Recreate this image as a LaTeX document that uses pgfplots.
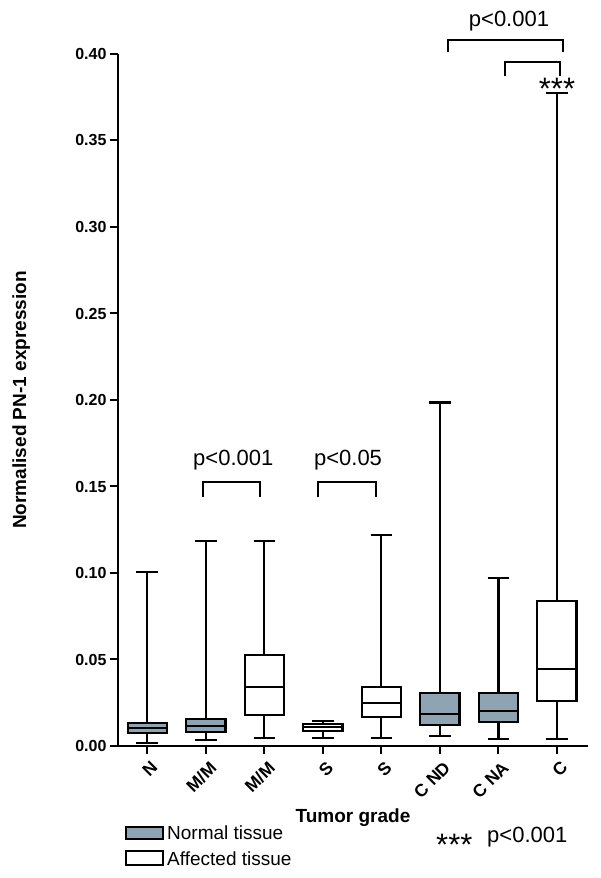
\documentclass[border=0pt]{standalone}
\usepackage{fontspec}
\setmainfont{Liberation Sans}
\usepackage{pgfplots}
\pgfplotsset{compat=1.18}
\usepgfplotslibrary{statistics}
\definecolor{normalgray}{RGB}{143,164,178}
\begin{document}
\begin{tikzpicture}
\useasboundingbox (0pt,0pt) rectangle (600pt,878pt);
\begin{axis}[
  at={(118pt,132pt)}, anchor=south west,
  scale only axis, width=470pt, height=692pt,
  xmin=-0.5, xmax=7.53, ymin=0, ymax=0.4,
  axis x line*=bottom, axis y line*=left,
  axis line style={line width=2pt, -},
  tick align=outside, major tick length=8pt,
  major tick style={line width=2pt, black},
  xtick={0,1,2,3,4,5,6,7},
  xticklabels={N,M/M,M/M,S,S,C ND,C NA,C},
  ytick={0,0.05,0.10,0.15,0.20,0.25,0.30,0.35,0.40},
  /pgf/number format/assume math mode=true,
  yticklabel style={/pgf/number format/.cd, fixed, fixed zerofill, precision=2},
  tick label style={font=\fontsize{16}{19}\selectfont\bfseries},
  xticklabel style={rotate=45, anchor=north east, yshift=-3pt, xshift=1pt, font=\fontsize{17.5}{20}\selectfont\bfseries},
  ylabel={Normalised PN-1 expression},
  ylabel style={font=\fontsize{19}{22}\selectfont\bfseries, at={(axis description cs:-0.206,0.5)}, anchor=center},
  xlabel={Tumor grade},
  xlabel style={font=\fontsize{19}{22}\selectfont\bfseries, at={(axis description cs:0.5,-0.104)}, anchor=center},
  clip=false,
  boxplot/draw direction=y,
  boxplot/box extend=0.67,
  boxplot/whisker extend=0.37,
  boxplot/every box/.style={draw=black, line width=2.2pt},
  boxplot/every whisker/.style={draw=black, line width=2.2pt},
  boxplot/every median/.style={draw=black, line width=2.2pt},
]
% N (normal)
\addplot[fill=normalgray, draw=black, line width=2.2pt, boxplot prepared={draw position=0, lower whisker=0.0019, lower quartile=0.0073, median=0.0106, upper quartile=0.0135, upper whisker=0.1004}] coordinates {};
% M/M (normal)
\addplot[fill=normalgray, draw=black, line width=2.2pt, boxplot prepared={draw position=1, lower whisker=0.0035, lower quartile=0.0081, median=0.0116, upper quartile=0.0156, upper whisker=0.1185}] coordinates {};
% M/M (affected)
\addplot[fill=white, draw=black, line width=2.2pt, boxplot prepared={draw position=2, lower whisker=0.0048, lower quartile=0.0177, median=0.0343, upper quartile=0.0526, upper whisker=0.1185}] coordinates {};
% S
\addplot[fill=white, draw=black, line width=2.2pt, boxplot prepared={draw position=3, lower whisker=0.0048, lower quartile=0.0089, median=0.0108, upper quartile=0.0127, upper whisker=0.0145}] coordinates {};
% S (affected)
\addplot[fill=white, draw=black, line width=2.2pt, boxplot prepared={draw position=4, lower whisker=0.0044, lower quartile=0.0166, median=0.0250, upper quartile=0.0343, upper whisker=0.1220}] coordinates {};
% C ND (normal)
\addplot[fill=normalgray, draw=black, line width=2.2pt, boxplot prepared={draw position=5, lower whisker=0.0058, lower quartile=0.0121, median=0.0183, upper quartile=0.0308, upper whisker=0.1985}] coordinates {};
% C NA (normal)
\addplot[fill=normalgray, draw=black, line width=2.2pt, boxplot prepared={draw position=6, lower whisker=0.0039, lower quartile=0.0137, median=0.0204, upper quartile=0.0308, upper whisker=0.0973}] coordinates {};
% C (affected)
\addplot[fill=white, draw=black, line width=2.2pt, boxplot prepared={draw position=7, lower whisker=0.0040, lower quartile=0.0260, median=0.0443, upper quartile=0.0840, upper whisker=0.3775}] coordinates {};
% significance brackets
\draw[line width=1.8pt] (axis cs:0.95,0.144) -- (axis cs:0.95,0.1524) -- (axis cs:1.93,0.1524) -- (axis cs:1.93,0.144);
\node[font=\fontsize{22}{26}\selectfont] at (axis cs:1.47,0.1653) {p<0.001};
\draw[line width=1.8pt] (axis cs:2.92,0.144) -- (axis cs:2.92,0.1524) -- (axis cs:3.91,0.1524) -- (axis cs:3.91,0.144);
\node[font=\fontsize{22}{26}\selectfont] at (axis cs:3.43,0.1653) {p<0.05};
\draw[line width=1.8pt] (axis cs:5.14,0.401) -- (axis cs:5.14,0.408) -- (axis cs:7.10,0.408) -- (axis cs:7.10,0.401);
\node[font=\fontsize{22}{26}\selectfont] at (axis cs:6.18,0.4193) {p<0.001};
\draw[line width=1.8pt] (axis cs:6.11,0.387) -- (axis cs:6.11,0.3955) -- (axis cs:7.05,0.3955) -- (axis cs:7.05,0.387);
\node[font=\fontsize{31}{36}\selectfont, anchor=base, inner sep=0pt] at (axis cs:7.0,0.3735) {***};
\end{axis}
% legend
\draw[line width=1.5pt, fill=normalgray] (126pt,51pt) rectangle (163pt,39pt);
\node[anchor=west, font=\fontsize{19}{22}\selectfont, inner sep=0pt] at (167pt,45pt) {Normal tissue};
\draw[line width=1.5pt, fill=white] (126pt,27pt) rectangle (163pt,13pt);
\node[anchor=west, font=\fontsize{19}{22}\selectfont, inner sep=0pt] at (167pt,19pt) {Affected tissue};
\node[anchor=base west, font=\fontsize{31}{36}\selectfont, inner sep=0pt] at (436pt,22pt) {***};
\node[anchor=base west, font=\fontsize{22}{26}\selectfont, inner sep=0pt] at (487pt,35pt) {p<0.001};
\end{tikzpicture}
\end{document}
